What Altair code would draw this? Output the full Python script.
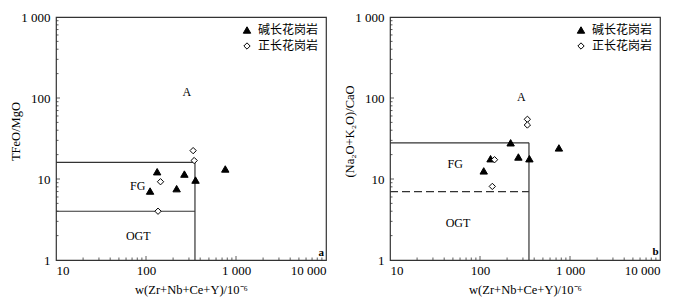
import altair as alt
import pandas as pd

TYPES = ["碱长花岗岩", "正长花岗岩"]

# panel a: TFeO/MgO
a_tri_x = [133, 267, 355, 111, 219, 760]
a_tri_y = [12.3, 11.5, 9.7, 7.1, 7.6, 13.3]
a_dia_x = [334, 343, 145, 136]
a_dia_y = [22.4, 16.9, 9.25, 4.0]

# panel b: (Na2O+K2O)/CaO
b_tri_x = [219, 753, 131, 267, 354, 110]
b_tri_y = [28.0, 24.2, 17.8, 18.7, 17.8, 12.6]
b_dia_x = [336, 336, 145, 137]
b_dia_y = [54.6, 46.4, 17.3, 8.1]

# boundary lines (solid): x, x2, y, y2
a_lines = {"x": [10, 10, 350], "x2": [350, 350, 350], "y": [16, 4, 1], "y2": [16, 4, 16]}
b_lines = {"x": [10, 350], "x2": [350, 350], "y": [28, 1], "y2": [28, 28]}
b_dash = {"x": [10], "x2": [350], "y": [7], "y2": [7]}

# field labels
a_lab = {"x": [284, 81, 82], "y": [120, 8.25, 1.96], "t": ["A", "FG", "OGT"]}
b_lab = {"x": [288, 53, 57], "y": [104, 15.4, 2.84], "t": ["A", "FG", "OGT"]}
a_tag = {"x": [8830], "y": [1.21], "t": ["a"]}
b_tag = {"x": [8900], "y": [1.24], "t": ["b"]}

x_major = [100, 1000]
x_minor = [v * m for m in (10, 100, 1000) for v in range(2, 10)]
y_major = [10, 100]
y_minor = [v * m for m in (1, 10, 100) for v in range(2, 10)]

W, H = 270, 243
SERIF = "Liberation Serif"
CJK = "Noto Sans CJK SC"
LINE = "#333333"

XT = "w(Zr+Nb+Ce+Y)/10⁻⁶"


def X(field):
    return alt.X(field, type="quantitative",
                 scale=alt.Scale(type="log", domain=[10, 10000], nice=False),
                 axis=alt.Axis(values=[10, 100, 1000, 10000], title=XT,
                               labelExpr="replace(format(datum.value, ','), ',', ' ')",
                               labelPadding=4, titlePadding=6, tickSize=0))


def Y(field, title):
    return alt.Y(field, type="quantitative",
                 scale=alt.Scale(type="log", domain=[1, 1000], nice=False),
                 axis=alt.Axis(values=[1, 10, 100, 1000], title=title,
                               labelExpr="replace(format(datum.value, ','), ',', ' ')",
                               labelPadding=6, tickSize=0, titleX=-34, titleY=114))


def leg():
    return alt.Legend(title=None, orient="top-right", offset=7,
                      labelFont=CJK, labelFontSize=12, labelColor="black",
                      symbolStrokeWidth=1,
                      rowPadding=4, padding=0, labelOffset=5)


def panel(tx, ty, dx, dy, lines, dashed, labs, tag, ytitle):
    pts = pd.DataFrame({"x": tx + dx, "y": ty + dy,
                        "t": [TYPES[0]] * len(tx) + [TYPES[1]] * len(dx)})
    layers = []
    layers.append(alt.Chart(pd.DataFrame(lines)).mark_rule(color=LINE, strokeWidth=1.2).encode(
        x=X("x"), x2="x2", y=Y("y", ytitle), y2="y2"))
    if dashed is not None:
        layers.append(alt.Chart(pd.DataFrame(dashed)).mark_rule(
            color=LINE, strokeWidth=1.2, strokeDash=[8, 4]).encode(
            x=X("x"), x2="x2", y=Y("y", ytitle), y2="y2"))
    # inward ticks
    for vals, ln_ in ((x_minor, 2.5), (x_major, 4)):
        layers.append(alt.Chart(pd.DataFrame({"x": vals})).mark_rule(
            color=LINE, strokeWidth=0.8).encode(
            x=X("x"), y=alt.value(H), y2=alt.value(H - ln_)))
    for vals, ln_ in ((y_minor, 2.5), (y_major, 4)):
        layers.append(alt.Chart(pd.DataFrame({"y": vals})).mark_rule(
            color=LINE, strokeWidth=0.8).encode(
            y=Y("y", ytitle), x=alt.value(0), x2=alt.value(ln_)))
    layers.append(alt.Chart(pd.DataFrame(labs)).mark_text(
        font=SERIF, fontSize=12, color="black").encode(
        x=X("x"), y=Y("y", ytitle), text="t"))
    layers.append(alt.Chart(pd.DataFrame(tag)).mark_text(
        font=SERIF, fontSize=11, fontWeight="bold", color="black").encode(
        x=X("x"), y=Y("y", ytitle), text="t"))
    layers.append(alt.Chart(pts).mark_point(
        filled=False, strokeWidth=1, opacity=1).encode(
        x=X("x"), y=Y("y", ytitle),
        stroke=alt.Stroke("t:N", scale=alt.Scale(domain=TYPES, range=["black", "black"]),
                          legend=leg()),
        shape=alt.Shape("t:N", scale=alt.Scale(domain=TYPES, range=["triangle-up", "diamond"]),
                        legend=leg()),
        fill=alt.Fill("t:N", scale=alt.Scale(domain=TYPES, range=["black", "white"]),
                      legend=leg()),
        size=alt.Size("t:N", scale=alt.Scale(domain=TYPES, range=[55, 40]), legend=leg()),
    ))
    return alt.layer(*layers).properties(width=W, height=H)


left = panel(a_tri_x, a_tri_y, a_dia_x, a_dia_y, a_lines, None, a_lab, a_tag, "TFeO/MgO")
right = panel(b_tri_x, b_tri_y, b_dia_x, b_dia_y, b_lines, b_dash, b_lab, b_tag, "(Na₂O+K₂O)/CaO")

chart = alt.HConcatChart(hconcat=[left, right], spacing=64, bounds="flush").resolve_scale(
    shape="independent", fill="independent", size="independent", stroke="independent"
).resolve_legend(shape="independent", fill="independent", size="independent",
                 stroke="independent").properties(
    padding={"left": 0, "top": 2, "right": 0, "bottom": 0},
    background="white",
).configure_view(stroke=LINE, strokeWidth=1.2).configure_axis(
    domain=False, grid=False, ticks=False,
    labelFont=SERIF, labelFontSize=13, labelColor="black",
    titleFont=SERIF, titleFontSize=12.5, titleFontWeight="normal", titleColor="black",
)

chart.save("out.html", embed_options={"renderer": "svg", "actions": False})
